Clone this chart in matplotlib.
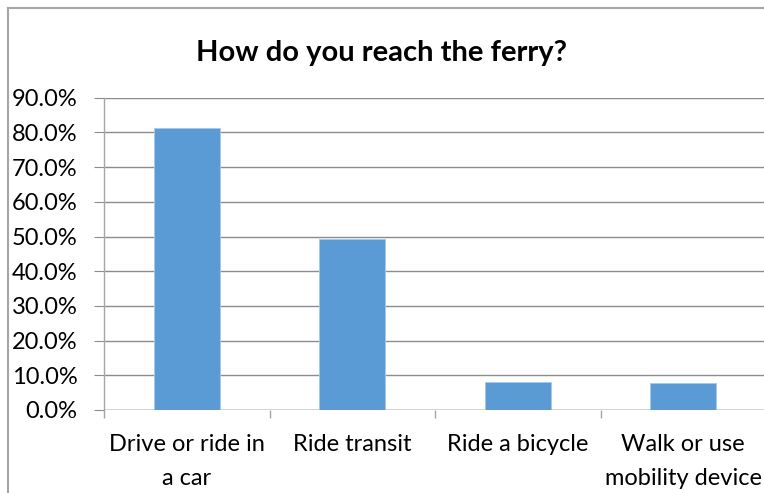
import matplotlib
matplotlib.use("Agg")
import matplotlib.pyplot as plt
from matplotlib.ticker import PercentFormatter, MultipleLocator
from matplotlib.lines import Line2D

title = "How do you reach the ferry?"
categories = ["Drive or ride in\na car", "Ride transit", "Ride a bicycle", "Walk or use\nmobility device"]
values = [81.3, 49.3, 8.15, 7.8]

plt.rcParams['font.family'] = ['Lato', 'DejaVu Sans']

fig = plt.figure(figsize=(7.64, 4.93), dpi=100)
ax = fig.add_axes([104/764, 83/493, 662/764, 312.3/493])

x = list(range(len(categories)))
ax.bar(x, values, width=0.4, color="#5b9bd5", edgecolor="#a9c8ea", linewidth=0.6, zorder=3)

ax.set_xlim(-0.5, len(categories) - 0.5)
ax.set_ylim(0, 90)
ax.yaxis.set_major_locator(MultipleLocator(10))
ax.yaxis.set_major_formatter(PercentFormatter(decimals=1))
ax.grid(axis='y', color="#8c8c8c", linewidth=1.0, zorder=0)

for s in ['top', 'right', 'bottom']:
    ax.spines[s].set_visible(False)
ax.spines['left'].set_color("#a6a6a6")
ax.spines['left'].set_linewidth(1.0)

ax.set_xticks([i - 0.5 for i in range(len(categories))] + [len(categories) - 0.5], minor=True)
ax.set_xticks(x)
ax.set_xticklabels(categories, fontsize=17, color="#000000", linespacing=1.8)
ax.tick_params(axis='x', which='major', length=0, pad=17)
ax.tick_params(axis='x', which='minor', length=6, color="#a6a6a6", width=1.0)
ax.tick_params(axis='y', length=7, color="#8c8c8c", labelsize=17, pad=12)
ax.axhline(0, color="#8c8c8c", linewidth=1.0, zorder=4)

fig.text(382/764, 1 - 53/493, title, ha='center', va='center', fontsize=21, fontweight='bold')

fig.add_artist(Line2D([8/764, 8/764], [0, 1 - 8/493], transform=fig.transFigure, color="#a6a6a6", linewidth=1.5))
fig.add_artist(Line2D([8/764, 1], [1 - 8/493, 1 - 8/493], transform=fig.transFigure, color="#a6a6a6", linewidth=1.5))

fig.savefig("out.png", dpi=100)
